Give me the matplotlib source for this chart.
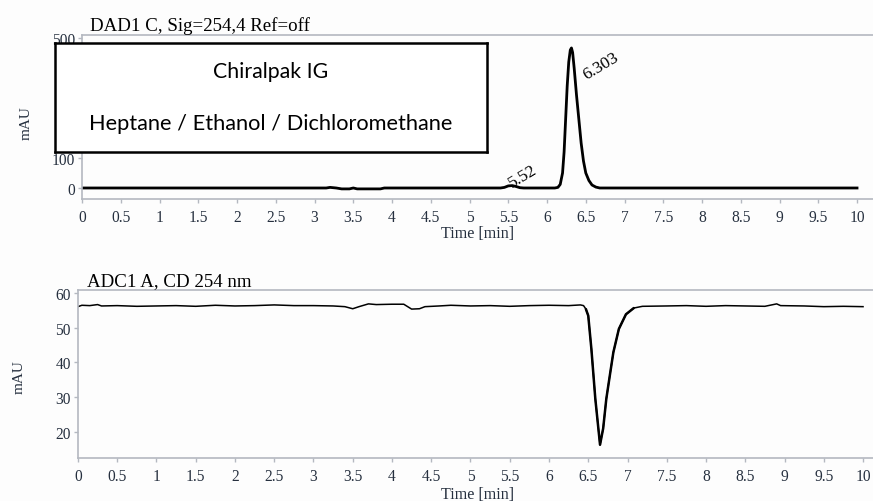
import matplotlib.pyplot as plt
import numpy as np

plt.rcParams['font.family'] = ['Liberation Serif', 'DejaVu Serif']
plt.rcParams['font.serif'] = ['Liberation Serif']

# top trace: DAD1 C, Sig=254,4 Ref=off  (time [min], mAU)
dad_t = [0, 3.15, 3.2, 3.28, 3.35, 3.45, 3.5, 3.55, 3.85, 3.9, 5.4, 5.45, 5.5, 5.55,
         5.6, 5.65, 5.7, 6.1, 6.14, 6.17, 6.2, 6.22, 6.24, 6.26, 6.28, 6.3, 6.315,
         6.33, 6.35, 6.38, 6.41, 6.44, 6.47, 6.5, 6.54, 6.58, 6.63, 6.68, 10.0]
dad_y = [0, 0, 2, 0, -3, -3, 0, -3, -3, 0, 0, 2, 7, 8,
         5, 1, 0, 0, 2, 12, 50, 120, 230, 340, 420, 460, 467,
         452, 400, 310, 230, 150, 90, 50, 25, 10, 3, 0, 0]

# bottom trace: ADC1 A, CD 254 nm
adc_t = [0, 0.05, 0.15, 0.25, 0.3, 0.5, 0.75, 1.0, 1.25, 1.5, 1.75, 2.0, 2.25, 2.5,
         2.75, 3.0, 3.25, 3.4, 3.5, 3.58, 3.7, 3.8, 4.0, 4.15, 4.2, 4.25, 4.35, 4.42,
         4.6, 4.75, 5.0, 5.25, 5.5, 5.75, 6.0, 6.25, 6.4, 6.44, 6.47, 6.5, 6.54, 6.59,
         6.65, 6.69, 6.73, 6.78, 6.82, 6.89, 6.98, 7.08, 7.19, 7.5, 7.75, 8.0, 8.25,
         8.5, 8.75, 8.9, 8.95, 9.25, 9.5, 9.75, 10.0]
adc_y = [56.0, 56.4, 56.3, 56.6, 56.2, 56.3, 56.1, 56.2, 56.3, 56.1, 56.4, 56.2, 56.3, 56.5,
         56.3, 56.3, 56.2, 56.0, 55.4, 56.0, 56.8, 56.6, 56.7, 56.7, 56.0, 55.3, 55.4, 56.0,
         56.2, 56.4, 56.2, 56.3, 56.1, 56.3, 56.4, 56.3, 56.5, 56.3, 55.3, 53.4, 43.8, 29.5,
         16.3, 21.0, 29.5, 37.0, 42.9, 49.6, 53.8, 55.6, 56.1, 56.2, 56.3, 56.1, 56.3,
         56.2, 56.1, 56.8, 56.3, 56.2, 56.0, 56.1, 56.0]

# peak labels: text, label anchor (time, mAU)
peak_labels = ['5.52', '6.303']
peak_lx = [5.55, 6.51]
peak_ly = [4, 362]

xticks = np.arange(0, 10.01, 0.5)
tick_col = '#26303f'
spine_col = '#b4b8c0'
serif = 'Liberation Serif'

fig = plt.figure(figsize=(8.73, 5.02), dpi=100)
fig.patch.set_facecolor('#fdfdfd')

ax1 = fig.add_axes([0.094, 0.6016, 0.906, 0.3266])
ax2 = fig.add_axes([0.0893, 0.085, 0.9107, 0.3347])

def style(ax, yticks):
    ax.set_facecolor('#fdfdfd')
    ax.spines['right'].set_visible(False)
    for s in ['left', 'bottom', 'top']:
        ax.spines[s].set_color(spine_col)
        ax.spines[s].set_linewidth(1.2)
    ax.set_xticks(xticks)
    ax.set_xticklabels(['%g' % v for v in xticks], fontfamily=serif)
    ax.set_yticks(yticks)
    ax.set_yticklabels(['%g' % v for v in yticks], fontfamily=serif)
    ax.tick_params(direction='out', length=3, width=1, color=spine_col,
                   labelcolor=tick_col, labelsize=11.2, labelfontfamily=serif)
    ax.tick_params(axis='x', pad=4)
    ax.tick_params(axis='y', pad=2)
    ax.set_xlabel('Time [min]', fontsize=11.6, color=tick_col, va='top', fontfamily=serif)
    ax.set_ylabel('mAU', fontsize=11, color=tick_col, fontfamily=serif)

# top panel
ax1.plot(dad_t, dad_y, color='black', lw=2)
ax1.set_xlim(0, 10.206)
ax1.set_ylim(-36.7, 510)
style(ax1, [0, 100, 500])
ax1.yaxis.set_label_coords(-0.063, 0.47)
ax1.xaxis.set_label_coords((478 - 82) / 791, -0.16)
for lab, x, y in zip(peak_labels, peak_lx, peak_ly):
    ax1.text(x, y, lab, rotation=31, fontsize=12.5, color='black', fontfamily=serif,
             ha='left', va='baseline', rotation_mode='anchor')
fig.text(90 / 873, 1 - 31 / 502, 'DAD1 C, Sig=254,4 Ref=off', fontfamily=serif,
         fontsize=13.6, color='black', ha='left', va='baseline')

# box with column / solvent info
box = fig.add_axes([55 / 873, 1 - 153 / 502, (487 - 55) / 873, (153 - 44) / 502])
box.set_xticks([])
box.set_yticks([])
box.set_facecolor('white')
for s in box.spines.values():
    s.set_color('black')
    s.set_linewidth(1.8)
box.text(0.5, 0.74, 'Chiralpak IG', family='Lato', fontsize=15.3, ha='center', va='center')
box.text(0.5, 0.27, 'Heptane / Ethanol / Dichloromethane', family='Lato', fontsize=15.7,
         ha='center', va='center')

# bottom panel
ax2.plot(adc_t, adc_y, color='black', lw=1.1)
# the dip itself is drawn heavier in the original
dip = slice(adc_t.index(6.47), adc_t.index(7.08) + 1)
ax2.plot(adc_t[dip], adc_y[dip], color='black', lw=1.8, solid_capstyle='round')
ax2.set_xlim(0, 10.127)
ax2.set_ylim(12.4, 60.7)
style(ax2, [20, 30, 40, 50, 60])
ax2.yaxis.set_label_coords(-0.066, 0.49)
ax2.xaxis.set_label_coords((478 - 78) / 795, -0.165)
fig.text(87 / 873, 1 - 286 / 502, 'ADC1 A, CD 254 nm', fontfamily=serif,
         fontsize=13.6, color='black', ha='left', va='baseline')

fig.savefig('out.png', dpi=100, facecolor=fig.get_facecolor())
